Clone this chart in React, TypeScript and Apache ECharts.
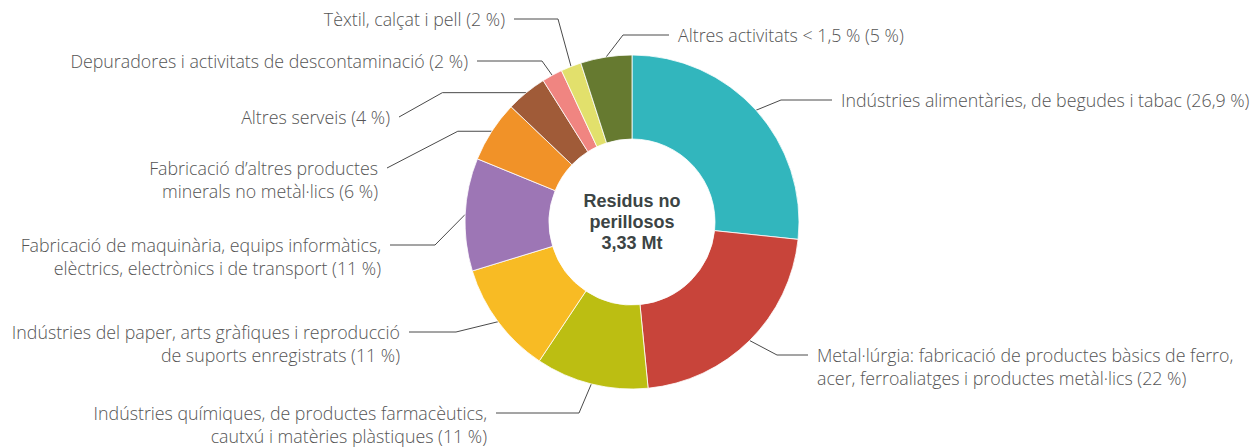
import React, { useEffect, useRef } from "react";
import * as echarts from "echarts";

const categories = [
  "Indústries alimentàries, de begudes i tabac",
  "Metal·lúrgia: fabricació de productes bàsics de ferro,\nacer, ferroaliatges i productes metàl·lics",
  "Indústries químiques, de productes farmacèutics,\ncautxú i matèries plàstiques",
  "Indústries del paper, arts gràfiques i reproducció\nde suports enregistrats",
  "Fabricació de maquinària, equips informàtics,\nelèctrics, electrònics i de transport",
  "Fabricació d’altres productes\nminerals no metàl·lics",
  "Altres serveis",
  "Depuradores i activitats de descontaminació",
  "Tèxtil, calçat i pell",
  "Altres activitats < 1,5 %",
];
const values = [26.9, 22, 11, 11, 11, 6, 4, 2, 2, 5];
const colors = [
  "#32b6bd",
  "#c8443a",
  "#bcbe12",
  "#f8bb24",
  "#9d76b5",
  "#f19228",
  "#a05b38",
  "#f08581",
  "#e2e06c",
  "#667a30",
];
const centerTitle = "Residus no\nperillosos\n3,33 Mt";

// label placement (layout only): text anchor x, first-line centre y, alignment,
// horizontal leader length and where the horizontal leader sits
const labelPlacement = [
  { x: 841, y: 100, align: "left", hlen: 51, bend: "label" },
  { x: 817, y: 355, align: "left", hlen: 31, bend: "label" },
  { x: 487, y: 413, align: "right", hlen: 83, bend: "label" },
  { x: 400, y: 332, align: "right", hlen: 47, bend: "label" },
  { x: 381, y: 245, align: "right", hlen: 45, bend: "label" },
  { x: 378, y: 168, align: "right", hlen: 34, bend: "pie" },
  { x: 390, y: 117, align: "right", hlen: 84, bend: "pie" },
  { x: 468, y: 61, align: "right", hlen: 65, bend: "label" },
  { x: 505, y: 19, align: "right", hlen: 44, bend: "label" },
  { x: 678, y: 35, align: "left", hlen: 46, bend: "label" },
];

const CX = 632;
const CY = 222;
const R_IN = 83;
const R_OUT = 167;
const LINE_H = 23;
const GAP = 9;

export default function App() {
  const ref = useRef<HTMLDivElement>(null);
  useEffect(() => {
    document.body.style.margin = "0";
    if (!ref.current) return;
    const chart = echarts.init(ref.current, undefined, { renderer: "svg" });
    const total = values.reduce((a, b) => a + b, 0);
    const midAngles: number[] = [];
    let acc = 0;
    values.forEach((v) => {
      const start = 90 - (acc / total) * 360;
      acc += v;
      const end = 90 - (acc / total) * 360;
      midAngles.push(((start + end) / 2) * (Math.PI / 180));
    });

    chart.setOption({
      animation: false,
      backgroundColor: "#ffffff",
      graphic: [
        {
          type: "text",
          x: CX,
          y: CY,
          style: {
            text: centerTitle,
            fill: "#3c4444",
            font: "bold 18px 'Liberation Sans', Arial, sans-serif",
            lineHeight: 21,
            align: "center",
            verticalAlign: "middle",
          },
          z: 100,
        },
      ],
      series: [
        {
          type: "pie",
          center: [CX, CY],
          radius: [R_IN, R_OUT],
          startAngle: 90,
          clockwise: true,
          avoidLabelOverlap: false,
          itemStyle: { borderColor: "#ffffff", borderWidth: 0.8 },
          label: {
            show: true,
            position: "outside",
            color: "#555555",
            fontFamily: "'Open Sans', 'Liberation Sans', sans-serif",
            fontWeight: 300,
            fontSize: 17.8,
            lineHeight: LINE_H,
            formatter: (p: any) =>
              `${p.name} (${String(p.value).replace(".", ",")} %)`,
          },
          labelLine: {
            show: true,
            length: 10,
            length2: 10,
            smooth: false,
            lineStyle: { color: "#4a4a4a", width: 1 },
          },
          labelLayout: (params: any) => {
            const i = params.dataIndex;
            const a = labelPlacement[i];
            const dir = a.align === "left" ? -1 : 1;
            const p0 =
              params.labelLinePoints && params.labelLinePoints[0]
                ? params.labelLinePoints[0]
                : [
                    CX + R_OUT * Math.cos(midAngles[i]),
                    CY - R_OUT * Math.sin(midAngles[i]),
                  ];
            const end = [a.x + dir * GAP, a.y];
            const elbow =
              a.bend === "label"
                ? [end[0] + dir * a.hlen, end[1]]
                : [p0[0] - dir * a.hlen, p0[1]];
            return {
              x: a.x,
              y: a.y - LINE_H / 2,
              align: a.align,
              verticalAlign: "top",
              labelLinePoints: [p0, elbow, end],
            };
          },
          data: categories.map((name, i) => ({
            name,
            value: values[i],
            itemStyle: { color: colors[i] },
          })),
        },
      ],
    });
    return () => chart.dispose();
  }, []);
  return <div ref={ref} style={{ width: 1258, height: 448 }} />;
}
